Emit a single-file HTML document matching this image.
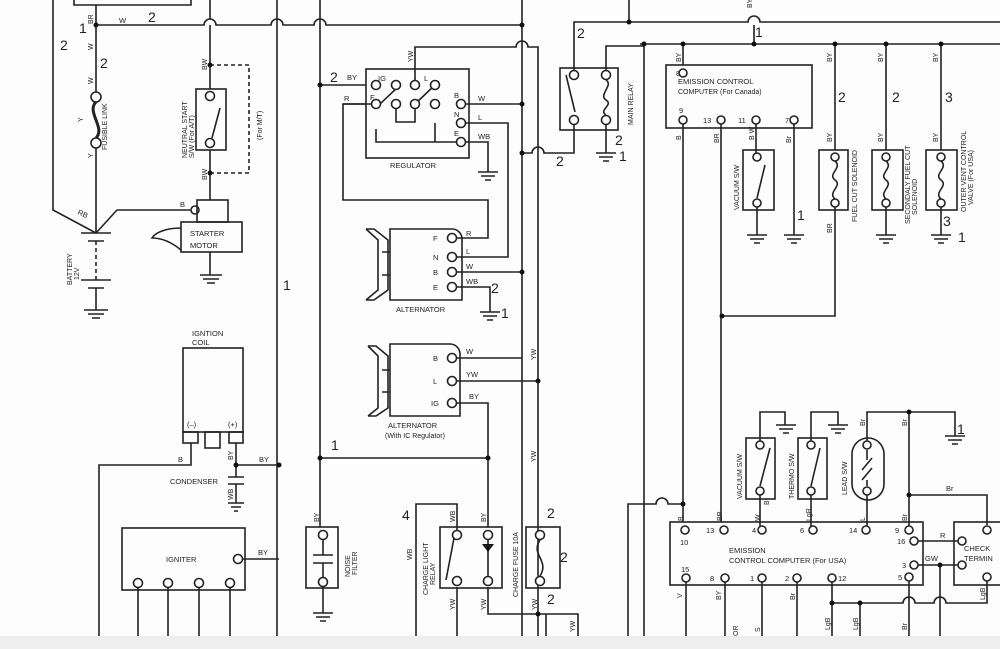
<!DOCTYPE html>
<html><head><meta charset="utf-8"><style>
html,body{margin:0;padding:0;background:#fff}
svg{display:block}
text{font-family:"Liberation Sans",sans-serif;fill:#222}
</style></head><body>
<svg width="1000" height="649" viewBox="0 0 1000 649" xmlns="http://www.w3.org/2000/svg">
<rect width="1000" height="649" fill="#fdfdfd"/>
<rect x="0" y="636" width="1000" height="13" fill="#eeeeee"/>
<g fill="none" stroke="#222" stroke-width="1.6">
<path d="M74 0 V5 H191 V0"/>
<path d="M53 0 V210 L96 233"/>
<path d="M96 5 V92 M96 148 V233"/>
<path d="M96 25 H204 a6 6 0 0 1 12 0 H271 a6 6 0 0 1 12 0 H314 a6 6 0 0 1 12 0 H522"/>
<circle cx="96" cy="97" r="5" fill="#fff"/><circle cx="96" cy="143" r="5" fill="#fff"/>
<path d="M96 102 C86 112,106 128,96 138" stroke-width="3"/>
<path d="M81 233 H111 M88 241 H104 M81 280 H111 M88 288 H104 M96 288 V310"/>
<path d="M96 241 V280" stroke-dasharray="4 3"/>
<path d="M84 310 H108 M88 314 H104 M92 318 H100"/>
<path d="M96 233 L117 210 H191"/>
<circle cx="195" cy="210" r="4" fill="#fff"/>
<rect x="197" y="200" width="31" height="22"/>
<rect x="181" y="222" width="61" height="30"/>
<path d="M181 228 C165 228,155 233,152 238 C165 238,175 245,181 250"/>
<path d="M210 252 V275 M200 275 H222 M203 279 H219 M207 283 H215"/>
<path d="M210 0 V19 M210 25 V89 M210 150 V200"/>
<rect x="196" y="89" width="30" height="61"/>
<circle cx="210" cy="96" r="4.5" fill="#fff"/><circle cx="210" cy="143" r="4.5" fill="#fff"/>
<path d="M212 138 L220 108"/>
<path d="M210 65 H249 V173 H210" stroke-dasharray="4 3"/>
<path d="M277 0 V636 M320 0 V527 M522 0 V636"/>
<path d="M320 85 H366 M343 104 H366"/>
<rect x="366" y="69" width="103" height="89"/>
<path d="M415 85 V47 H516 a6 6 0 0 1 12 0 H538 V636"/>
<path d="M466 104 H522 M466 123 H508 V257 H457 M466 142 H488 V172 M478 172 H498 M481 176 H495 M485 180 H491"/>
<path d="M371 104 H343 V200 H488 V238 H457"/>
<path d="M380 104 L400 85 M415 104 L435 85 M376 129 V142 H461 M396 104 V122 H415 V104 M435 123 V142"/>
<g fill="#fff"><circle cx="376" cy="85" r="4.5"/><circle cx="396" cy="85" r="4.5"/><circle cx="376" cy="104" r="4.5"/><circle cx="396" cy="104" r="4.5"/><circle cx="415" cy="85" r="4.5"/><circle cx="435" cy="85" r="4.5"/><circle cx="415" cy="104" r="4.5"/><circle cx="435" cy="104" r="4.5"/><circle cx="461" cy="104" r="4.5"/><circle cx="461" cy="123" r="4.5"/><circle cx="461" cy="142" r="4.5"/></g>
<path d="M390 229 H452 a10 10 0 0 1 10 10 V300 H390 Z"/>
<path d="M366 229 L378 240 V290 L366 300 M366 229 H374 L388 240 V290 L374 300 H366 M382 252 H390 M382 275 H390"/>
<g fill="#fff"><circle cx="452" cy="238" r="4.5"/><circle cx="452" cy="257" r="4.5"/><circle cx="452" cy="272" r="4.5"/><circle cx="452" cy="287" r="4.5"/></g>
<path d="M457 272 H522 M457 287 H490 V312 M480 312 H500 M483 316 H497 M487 320 H493"/>
<path d="M390 344 H450 a10 10 0 0 1 10 10 V416 H390 Z"/>
<path d="M368 346 L378 356 V408 L368 416 M368 346 H376 L388 356 V408 L376 416 H368 M382 370 H390 M382 392 H390"/>
<g fill="#fff"><circle cx="452" cy="358" r="4.5"/><circle cx="452" cy="381" r="4.5"/><circle cx="452" cy="403" r="4.5"/></g>
<path d="M457 358 H522 M457 381 H538 M457 403 H488 V527"/>
<path d="M320 458 H488"/>
<rect x="183" y="348" width="60" height="84"/>
<rect x="183" y="432" width="15" height="11"/><rect x="205" y="432" width="15" height="16"/><rect x="229" y="432" width="14" height="11"/>
<path d="M191 443 V465 H99 V636 M236 443 V477 M236 465 H279"/>
<path d="M228 477 H244 M228 484 H244 M236 484 V503 M228 503 H244 M231 507 H241 M234 511 H238"/>
<rect x="122" y="528" width="123" height="62"/>
<circle cx="238" cy="559" r="4.5" fill="#fff"/>
<path d="M243 559 H279"/>
<g fill="#fff"><circle cx="138" cy="583" r="4.5"/><circle cx="168" cy="583" r="4.5"/><circle cx="199" cy="583" r="4.5"/><circle cx="230" cy="583" r="4.5"/></g>
<path d="M138 588 V636 M168 588 V636 M199 588 V636 M230 588 V636"/>
<rect x="306" y="527" width="32" height="61"/>
<circle cx="323" cy="535" r="4.5" fill="#fff"/><circle cx="323" cy="582" r="4.5" fill="#fff"/>
<path d="M323 540 V555 M313 555 H333 M313 563 H333 M323 563 V577 M323 587 V613 M313 613 H333 M316 617 H330 M320 621 H326"/>
<rect x="440" y="527" width="62" height="61"/>
<path d="M416 636 V504 H457 V530 M457 587 V636 M488 587 V614 H578 V636 M546 614 V636"/>
<path d="M446 580 L454 538"/>
<g fill="#fff"><circle cx="457" cy="535" r="4.5"/><circle cx="457" cy="581" r="4.5"/><circle cx="488" cy="535" r="4.5"/><circle cx="488" cy="581" r="4.5"/></g>
<path d="M488 540 V576"/>
<rect x="526" y="527" width="34" height="61"/>
<circle cx="540" cy="535" r="4.5" fill="#fff"/><circle cx="540" cy="581" r="4.5" fill="#fff"/>
<path d="M540 540 C530 555,550 560,540 576"/>
<path d="M629 0 V22 M574 75 V22 H748 a6 6 0 0 1 12 0 H1000"/>
<path d="M606 75 V46 H644"/>
<rect x="560" y="68" width="58" height="62"/>
<g fill="#fff"><circle cx="574" cy="75" r="4.5"/><circle cx="574" cy="120" r="4.5"/><circle cx="606" cy="75" r="4.5"/><circle cx="606" cy="120" r="4.5"/></g>
<path d="M566 75 L575 112 M606 80 C614 85,598 95,606 100 C614 105,598 110,606 115"/>
<path d="M574 125 V153 H544 a6 6 0 0 0 -12 0 H522 M606 125 V153 M596 153 H616 M599 157 H613 M603 161 H609"/>
<path d="M640 44 H1000 M644 44 V636 M683 44 V65 M754 25 V44"/>
<rect x="666" y="65" width="146" height="63"/>
<g fill="#fff"><circle cx="683" cy="73" r="4"/><circle cx="683" cy="120" r="4"/><circle cx="721" cy="120" r="4"/><circle cx="756" cy="120" r="4"/><circle cx="794" cy="120" r="4"/></g>
<path d="M683 124 V522 M721 124 V522 M756 124 V156 M794 124 V235 M784 235 H804 M787 239 H801 M791 243 H797"/>
<rect x="743" y="150" width="31" height="60"/>
<circle cx="757" cy="157" r="4" fill="#fff"/><circle cx="757" cy="203" r="4" fill="#fff"/>
<path d="M757 198 L765 165 M757 207 V235 M747 235 H767 M750 239 H764 M754 243 H760"/>
<path d="M835 44 V150 M886 44 V150 M941 44 V150"/>
<rect x="819" y="150" width="29" height="60"/><rect x="872" y="150" width="31" height="60"/><rect x="926" y="150" width="31" height="60"/>
<g fill="#fff"><circle cx="835" cy="157" r="4"/><circle cx="835" cy="203" r="4"/><circle cx="886" cy="157" r="4"/><circle cx="886" cy="203" r="4"/><circle cx="941" cy="157" r="4"/><circle cx="941" cy="203" r="4"/></g>
<path d="M835 161 C843 168,827 174,835 180 C843 186,827 192,835 199 M886 161 C894 168,878 174,886 180 C894 186,878 192,886 199 M941 161 C949 168,933 174,941 180 C949 186,933 192,941 199"/>
<path d="M835 207 V316 H722 M886 207 V235 M876 235 H896 M879 239 H893 M883 243 H889 M941 207 V235 M931 235 H951 M934 239 H948 M938 243 H944"/>
<path d="M628 636 V504 H656 a6 6 0 0 1 12 0 H683"/>
<rect x="746" y="438" width="29" height="61"/><rect x="798" y="438" width="29" height="61"/>
<rect x="852" y="438" width="32" height="62" rx="16"/>
<g fill="#fff"><circle cx="760" cy="445" r="4"/><circle cx="760" cy="491" r="4"/><circle cx="811" cy="445" r="4"/><circle cx="811" cy="491" r="4"/><circle cx="867" cy="445" r="4"/><circle cx="867" cy="491" r="4"/></g>
<path d="M760 486 L770 448 M811 486 L820 448 M867 450 V460 M867 480 V486 M862 470 L872 458 M862 480 L872 468"/>
<path d="M760 441 V412 H785 V425 M776 425 H796 M779 429 H793 M783 433 H789"/>
<path d="M811 441 V412 H838 V425 M828 425 H848 M831 429 H845 M835 433 H841"/>
<path d="M867 441 V412 H955 V436 M945 436 H965 M948 440 H962 M952 444 H958"/>
<path d="M760 495 V527 M811 495 V527 M867 495 V527 M909 412 V527 M909 495 H987 V525"/>
<rect x="670" y="522" width="253" height="63"/>
<rect x="954" y="522" width="50" height="63"/>
<g fill="#fff"><circle cx="685" cy="530" r="4"/><circle cx="724" cy="530" r="4"/><circle cx="762" cy="530" r="4"/><circle cx="813" cy="530" r="4"/><circle cx="866" cy="530" r="4"/><circle cx="909" cy="530" r="4"/><circle cx="914" cy="541" r="4"/><circle cx="914" cy="565" r="4"/><circle cx="909" cy="577" r="4"/><circle cx="686" cy="578" r="4"/><circle cx="725" cy="578" r="4"/><circle cx="762" cy="578" r="4"/><circle cx="797" cy="578" r="4"/><circle cx="832" cy="578" r="4"/><circle cx="987" cy="530" r="4"/><circle cx="962" cy="541" r="4"/><circle cx="962" cy="565" r="4"/><circle cx="987" cy="577" r="4"/></g>
<path d="M918 541 H958 M918 565 H958 M940 565 V636"/>
<path d="M686 582 V636 M725 582 V636 M762 582 V636 M797 582 V636 M832 582 V636 M832 603 H903 a6 6 0 0 1 12 0 H934 a6 6 0 0 1 12 0 H987 V581 M860 603 V636 M909 581 V636"/>
</g>
<g fill="#111">
<circle cx="96" cy="25" r="2.5"/><circle cx="210" cy="65" r="2.5"/><circle cx="210" cy="173" r="2.5"/>
<circle cx="320" cy="85" r="2.5"/><circle cx="522" cy="25" r="2.5"/><circle cx="522" cy="104" r="2.5"/><circle cx="522" cy="153" r="2.5"/><circle cx="522" cy="272" r="2.5"/>
<circle cx="538" cy="381" r="2.5"/><circle cx="488" cy="458" r="2.5"/><circle cx="320" cy="458" r="2.5"/>
<circle cx="236" cy="465" r="2.5"/><circle cx="279" cy="465" r="2.5"/><circle cx="538" cy="614" r="2.5"/>
<circle cx="629" cy="22" r="2.5"/><circle cx="644" cy="44" r="2.5"/><circle cx="683" cy="44" r="2.5"/><circle cx="754" cy="44" r="2.5"/><circle cx="835" cy="44" r="2.5"/><circle cx="886" cy="44" r="2.5"/><circle cx="941" cy="44" r="2.5"/>
<circle cx="722" cy="316" r="2.5"/><circle cx="683" cy="504" r="2.5"/><circle cx="909" cy="412" r="2.5"/><circle cx="909" cy="495" r="2.5"/><circle cx="940" cy="565" r="2.5"/><circle cx="832" cy="603" r="2.5"/><circle cx="860" cy="603" r="2.5"/>
<path d="M482 544 H494 L488 552 Z"/>
</g>
<g font-size="14">
<text x="148" y="22">2</text><text x="79" y="33">1</text><text x="60" y="50">2</text><text x="100" y="68">2</text>
<text x="283" y="290">1</text><text x="330" y="82">2</text><text x="577" y="38">2</text><text x="556" y="166">2</text><text x="619" y="161">1</text><text x="615" y="145">2</text>
<text x="491" y="293">2</text><text x="501" y="318">1</text><text x="331" y="450">1</text>
<text x="402" y="520">4</text><text x="547" y="518">2</text><text x="560" y="562">2</text><text x="547" y="604">2</text>
<text x="755" y="37">1</text><text x="838" y="102">2</text><text x="892" y="102">2</text><text x="945" y="102">3</text>
<text x="797" y="220">1</text><text x="943" y="226">3</text><text x="958" y="242">1</text><text x="957" y="434">1</text>
</g>
<g font-size="7.5">
<text x="119" y="23">W</text><text x="77" y="214" transform="rotate(25 77 214)">RB</text><text x="180" y="207">B</text>
<text x="190" y="236">STARTER</text><text x="190" y="248">MOTOR</text>
<text x="192" y="336">IGNTION</text><text x="192" y="345">COIL</text><text x="187" y="427">(–)</text><text x="228" y="427">(+)</text>
<text x="178" y="462">B</text><text x="259" y="462">BY</text><text x="170" y="484">CONDENSER</text>
<text x="166" y="562">IGNITER</text><text x="258" y="555">BY</text>
<text x="390" y="168">REGULATOR</text><text x="347" y="80">BY</text><text x="344" y="101">R</text><text x="378" y="81">IG</text><text x="370" y="100">F</text><text x="424" y="81">L</text><text x="454" y="98">B</text><text x="454" y="117">N</text><text x="454" y="136">E</text>
<text x="478" y="101">W</text><text x="478" y="120">L</text><text x="478" y="139">WB</text>
<text x="433" y="241">F</text><text x="433" y="260">N</text><text x="433" y="275">B</text><text x="433" y="290">E</text>
<text x="466" y="236">R</text><text x="466" y="254">L</text><text x="466" y="269">W</text><text x="466" y="284">WB</text>
<text x="396" y="312">ALTERNATOR</text>
<text x="433" y="361">B</text><text x="433" y="384">L</text><text x="431" y="406">IG</text>
<text x="466" y="354">W</text><text x="466" y="377">YW</text><text x="469" y="399">BY</text>
<text x="388" y="428">ALTERNATOR</text><text x="385" y="438" font-size="7">(With IC Regulator)</text>
<text x="678" y="84">EMISSION CONTROL</text><text x="678" y="94" font-size="7">COMPUTER (For Canada)</text>
<text x="676" y="76">8</text><text x="679" y="113">9</text><text x="703" y="123">13</text><text x="738" y="123">11</text><text x="785" y="123">7</text>
<text x="729" y="553">EMISSION</text><text x="729" y="563">CONTROL COMPUTER (For USA)</text>
<text x="680" y="545">10</text><text x="706" y="533">13</text><text x="752" y="533">4</text><text x="800" y="533">6</text><text x="849" y="533">14</text><text x="895" y="533">9</text><text x="897" y="544">16</text><text x="902" y="568">3</text><text x="898" y="580">5</text>
<text x="681" y="572">15</text><text x="710" y="581">8</text><text x="750" y="581">1</text><text x="785" y="581">2</text><text x="838" y="581">12</text>
<text x="925" y="561">GW</text><text x="940" y="538">R</text><text x="946" y="491">Br</text>
<text x="964" y="551">CHECK</text><text x="964" y="561">TERMIN</text>
</g>
<g font-size="7">
<text transform="translate(107 150) rotate(-90)">FUSIBLE LINK</text>
<text transform="translate(187 158) rotate(-90)">NEUTRAL START</text>
<text transform="translate(194 158) rotate(-90)">S/W (For A/T)</text>
<text transform="translate(262 140) rotate(-90)">(For M/T)</text>
<text transform="translate(72 285) rotate(-90)">BATTERY</text><text transform="translate(79 280) rotate(-90)">12V</text>
<text transform="translate(350 577) rotate(-90)">NOISE</text><text transform="translate(357 575) rotate(-90)">FILTER</text>
<text transform="translate(428 595) rotate(-90)">CHARGE LIGHT</text><text transform="translate(435 585) rotate(-90)">RELAY</text>
<text transform="translate(518 597) rotate(-90)">CHARGE  FUSE 10A</text>
<text transform="translate(633 125) rotate(-90)">MAIN RELAY</text>
<text transform="translate(739 210) rotate(-90)">VACUUM S/W</text>
<text transform="translate(857 222) rotate(-90)">FUEL CUT SOLENOID</text>
<text transform="translate(910 224) rotate(-90)">SECONDALY FUEL CUT</text><text transform="translate(917 215) rotate(-90)">SOLENOID</text>
<text transform="translate(966 212) rotate(-90)">OUTER VENT CONTROL</text><text transform="translate(973 205) rotate(-90)">VALVE (For USA)</text>
<text transform="translate(742 499) rotate(-90)">VACUUM S/W</text><text transform="translate(794 499) rotate(-90)">THERMO S/W</text><text transform="translate(847 495) rotate(-90)">LEAD S/W</text>
<text transform="translate(93 24) rotate(-90)">BR</text><text transform="translate(93 50) rotate(-90)">W</text><text transform="translate(93 84) rotate(-90)">W</text><text transform="translate(83 122) rotate(-90)">Y</text><text transform="translate(93 158) rotate(-90)">Y</text>
<text transform="translate(207 70) rotate(-90)">BW</text><text transform="translate(207 180) rotate(-90)">BW</text>
<text transform="translate(413 62) rotate(-90)">YW</text>
<text transform="translate(233 460) rotate(-90)">BY</text><text transform="translate(233 500) rotate(-90)">WB</text>
<text transform="translate(319 522) rotate(-90)">BY</text>
<text transform="translate(412 560) rotate(-90)">WB</text><text transform="translate(455 522) rotate(-90)">WB</text><text transform="translate(486 522) rotate(-90)">BY</text>
<text transform="translate(455 610) rotate(-90)">YW</text><text transform="translate(486 610) rotate(-90)">YW</text><text transform="translate(537 610) rotate(-90)">YW</text><text transform="translate(575 632) rotate(-90)">YW</text>
<text transform="translate(536 360) rotate(-90)">YW</text><text transform="translate(536 462) rotate(-90)">YW</text>
<text transform="translate(752 8) rotate(-90)">BY</text><text transform="translate(681 62) rotate(-90)">BY</text>
<text transform="translate(681 140) rotate(-90)">B</text><text transform="translate(719 143) rotate(-90)">BR</text><text transform="translate(754 140) rotate(-90)">B W</text><text transform="translate(791 143) rotate(-90)">Br</text>
<text transform="translate(832 62) rotate(-90)">BY</text><text transform="translate(883 62) rotate(-90)">BY</text><text transform="translate(938 62) rotate(-90)">BY</text>
<text transform="translate(832 142) rotate(-90)">BY</text><text transform="translate(883 142) rotate(-90)">BY</text><text transform="translate(938 142) rotate(-90)">BY</text><text transform="translate(832 233) rotate(-90)">BR</text>
<text transform="translate(683 521) rotate(-90)">B</text><text transform="translate(722 521) rotate(-90)">BR</text><text transform="translate(760 521) rotate(-90)">W</text><text transform="translate(811 521) rotate(-90)">LgR</text><text transform="translate(865 521) rotate(-90)">L</text><text transform="translate(907 521) rotate(-90)">Br</text>
<text transform="translate(907 426) rotate(-90)">Br</text><text transform="translate(865 426) rotate(-90)">Br</text><text transform="translate(769 505) rotate(-90)">B</text>
<text transform="translate(682 598) rotate(-90)">V</text><text transform="translate(721 600) rotate(-90)">BY</text><text transform="translate(795 600) rotate(-90)">Br</text>
<text transform="translate(830 630) rotate(-90)">LgB</text><text transform="translate(858 630) rotate(-90)">LgB</text><text transform="translate(907 630) rotate(-90)">Br</text><text transform="translate(985 600) rotate(-90)">LgB</text>
<text transform="translate(738 636) rotate(-90)">OR</text><text transform="translate(760 632) rotate(-90)">S</text>
</g>
</svg>
</body></html>
